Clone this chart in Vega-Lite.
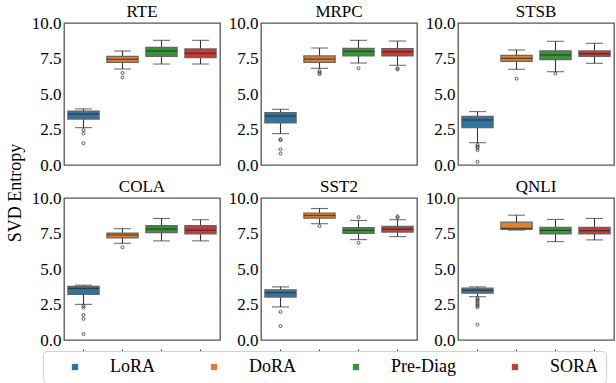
{
  "$schema": "https://vega.github.io/schema/vega-lite/v6.json",
  "padding": {"left": 6, "top": 2, "right": 3, "bottom": 1},
  "background": "white",
  "title": {"text": "SVD Entropy", "orient": "left", "anchor": "middle", "font": "Liberation Serif", "fontSize": 18, "fontWeight": "normal", "color": "#000", "offset": 6},
  "data": {"values": [
    {"task": "RTE", "method": "LoRA", "kind": "box", "lo": 2.63, "q1": 3.24, "med": 3.58, "q3": 3.80, "hi": 3.95},
    {"task": "RTE", "method": "DoRA", "kind": "box", "lo": 6.76, "q1": 7.23, "med": 7.44, "q3": 7.65, "hi": 8.03},
    {"task": "RTE", "method": "Pre-Diag", "kind": "box", "lo": 7.11, "q1": 7.65, "med": 8.03, "q3": 8.29, "hi": 8.78},
    {"task": "RTE", "method": "SORA", "kind": "box", "lo": 7.11, "q1": 7.56, "med": 7.86, "q3": 8.17, "hi": 8.78},
    {"task": "RTE", "method": "LoRA", "kind": "out", "v": 2.46},
    {"task": "RTE", "method": "LoRA", "kind": "out", "v": 2.22},
    {"task": "RTE", "method": "LoRA", "kind": "out", "v": 1.53},
    {"task": "RTE", "method": "DoRA", "kind": "out", "v": 6.48},
    {"task": "RTE", "method": "DoRA", "kind": "out", "v": 6.17},

    {"task": "MRPC", "method": "LoRA", "kind": "box", "lo": 2.21, "q1": 2.96, "med": 3.45, "q3": 3.69, "hi": 3.92},
    {"task": "MRPC", "method": "DoRA", "kind": "box", "lo": 6.81, "q1": 7.23, "med": 7.46, "q3": 7.68, "hi": 8.24},
    {"task": "MRPC", "method": "Pre-Diag", "kind": "box", "lo": 7.18, "q1": 7.68, "med": 8.00, "q3": 8.22, "hi": 8.78},
    {"task": "MRPC", "method": "SORA", "kind": "box", "lo": 7.02, "q1": 7.68, "med": 7.98, "q3": 8.19, "hi": 8.73},
    {"task": "MRPC", "method": "LoRA", "kind": "out", "v": 1.81},
    {"task": "MRPC", "method": "LoRA", "kind": "out", "v": 1.75},
    {"task": "MRPC", "method": "LoRA", "kind": "out", "v": 1.10},
    {"task": "MRPC", "method": "LoRA", "kind": "out", "v": 0.80},
    {"task": "MRPC", "method": "DoRA", "kind": "out", "v": 6.62},
    {"task": "MRPC", "method": "DoRA", "kind": "out", "v": 6.50},
    {"task": "MRPC", "method": "DoRA", "kind": "out", "v": 6.40},
    {"task": "MRPC", "method": "Pre-Diag", "kind": "out", "v": 6.81},
    {"task": "MRPC", "method": "SORA", "kind": "out", "v": 6.81},
    {"task": "MRPC", "method": "SORA", "kind": "out", "v": 6.73},

    {"task": "STSB", "method": "LoRA", "kind": "box", "lo": 1.57, "q1": 2.63, "med": 3.17, "q3": 3.43, "hi": 3.76},
    {"task": "STSB", "method": "DoRA", "kind": "box", "lo": 6.74, "q1": 7.30, "med": 7.51, "q3": 7.72, "hi": 8.10},
    {"task": "STSB", "method": "Pre-Diag", "kind": "box", "lo": 6.57, "q1": 7.42, "med": 7.75, "q3": 8.03, "hi": 8.71},
    {"task": "STSB", "method": "SORA", "kind": "box", "lo": 7.16, "q1": 7.65, "med": 7.84, "q3": 8.03, "hi": 8.57},
    {"task": "STSB", "method": "LoRA", "kind": "out", "v": 1.41},
    {"task": "STSB", "method": "LoRA", "kind": "out", "v": 1.30},
    {"task": "STSB", "method": "LoRA", "kind": "out", "v": 1.22},
    {"task": "STSB", "method": "LoRA", "kind": "out", "v": 1.05},
    {"task": "STSB", "method": "LoRA", "kind": "out", "v": 0.23},
    {"task": "STSB", "method": "DoRA", "kind": "out", "v": 6.08},
    {"task": "STSB", "method": "Pre-Diag", "kind": "out", "v": 6.45},

    {"task": "COLA", "method": "LoRA", "kind": "box", "lo": 2.51, "q1": 3.21, "med": 3.63, "q3": 3.77, "hi": 3.86},
    {"task": "COLA", "method": "DoRA", "kind": "box", "lo": 6.81, "q1": 7.19, "med": 7.40, "q3": 7.53, "hi": 7.84},
    {"task": "COLA", "method": "Pre-Diag", "kind": "box", "lo": 6.98, "q1": 7.56, "med": 7.81, "q3": 8.05, "hi": 8.56},
    {"task": "COLA", "method": "SORA", "kind": "box", "lo": 6.98, "q1": 7.47, "med": 7.74, "q3": 8.05, "hi": 8.47},
    {"task": "COLA", "method": "LoRA", "kind": "out", "v": 2.40},
    {"task": "COLA", "method": "LoRA", "kind": "out", "v": 2.28},
    {"task": "COLA", "method": "LoRA", "kind": "out", "v": 1.77},
    {"task": "COLA", "method": "LoRA", "kind": "out", "v": 1.49},
    {"task": "COLA", "method": "LoRA", "kind": "out", "v": 0.42},
    {"task": "COLA", "method": "DoRA", "kind": "out", "v": 6.53},

    {"task": "SST2", "method": "LoRA", "kind": "box", "lo": 2.33, "q1": 3.02, "med": 3.33, "q3": 3.53, "hi": 3.74},
    {"task": "SST2", "method": "DoRA", "kind": "box", "lo": 8.19, "q1": 8.58, "med": 8.77, "q3": 8.93, "hi": 9.26},
    {"task": "SST2", "method": "Pre-Diag", "kind": "box", "lo": 7.07, "q1": 7.51, "med": 7.72, "q3": 7.91, "hi": 8.42},
    {"task": "SST2", "method": "SORA", "kind": "box", "lo": 7.28, "q1": 7.60, "med": 7.81, "q3": 8.00, "hi": 8.47},
    {"task": "SST2", "method": "LoRA", "kind": "out", "v": 1.98},
    {"task": "SST2", "method": "LoRA", "kind": "out", "v": 0.98},
    {"task": "SST2", "method": "DoRA", "kind": "out", "v": 8.02},
    {"task": "SST2", "method": "Pre-Diag", "kind": "out", "v": 8.65},
    {"task": "SST2", "method": "Pre-Diag", "kind": "out", "v": 6.84},
    {"task": "SST2", "method": "SORA", "kind": "out", "v": 8.70},
    {"task": "SST2", "method": "SORA", "kind": "out", "v": 8.63},

    {"task": "QNLI", "method": "LoRA", "kind": "box", "lo": 3.05, "q1": 3.30, "med": 3.51, "q3": 3.65, "hi": 3.74},
    {"task": "QNLI", "method": "DoRA", "kind": "box", "lo": 7.74, "q1": 7.80, "med": 7.86, "q3": 8.30, "hi": 8.79},
    {"task": "QNLI", "method": "Pre-Diag", "kind": "box", "lo": 6.93, "q1": 7.47, "med": 7.72, "q3": 7.93, "hi": 8.49},
    {"task": "QNLI", "method": "SORA", "kind": "box", "lo": 7.05, "q1": 7.47, "med": 7.70, "q3": 7.93, "hi": 8.56},
    {"task": "QNLI", "method": "LoRA", "kind": "out", "v": 2.93},
    {"task": "QNLI", "method": "LoRA", "kind": "out", "v": 2.85},
    {"task": "QNLI", "method": "LoRA", "kind": "out", "v": 2.75},
    {"task": "QNLI", "method": "LoRA", "kind": "out", "v": 2.62},
    {"task": "QNLI", "method": "LoRA", "kind": "out", "v": 2.50},
    {"task": "QNLI", "method": "LoRA", "kind": "out", "v": 2.40},
    {"task": "QNLI", "method": "LoRA", "kind": "out", "v": 2.30},
    {"task": "QNLI", "method": "LoRA", "kind": "out", "v": 1.09}
  ]},
  "facet": {"field": "task", "type": "nominal", "sort": ["RTE", "MRPC", "STSB", "COLA", "SST2", "QNLI"],
    "header": {"title": null, "labelFont": "Liberation Serif", "labelFontSize": 17, "labelColor": "#000", "labelPadding": -7}},
  "columns": 3,
  "spacing": {"row": 3, "column": 6},
  "resolve": {"axis": {"y": "independent"}},
  "spec": {
    "width": 156,
    "height": 142,
    "encoding": {
      "x": {"field": "method", "type": "nominal", "sort": ["LoRA", "DoRA", "Pre-Diag", "SORA"],
        "scale": {"paddingInner": 0.2, "paddingOuter": 0.1},
        "axis": {"title": null, "labels": false, "ticks": true, "tickSize": 4, "tickColor": "#333", "tickWidth": 1, "domain": false, "grid": false}}
    },
    "layer": [
      {
        "transform": [{"filter": "datum.kind == 'box'"}],
        "mark": {"type": "rule", "color": "#333", "strokeWidth": 1.1},
        "encoding": {
          "y": {"field": "lo", "type": "quantitative", "scale": {"domain": [0, 10], "nice": false, "zero": false},
            "axis": {"title": null, "values": [0, 2.5, 5, 7.5, 10], "format": ".1f", "grid": false, "domain": false, "tickSize": 0, "labelPadding": 3,
              "labelOverlap": false, "labelBound": false, "labelFlush": false, "labelSeparation": 0,
              "labelFont": "Liberation Serif", "labelFontSize": 17, "labelColor": "#000"}},
          "y2": {"field": "hi"}
        }
      },
      {
        "transform": [{"filter": "datum.kind == 'box'"}],
        "mark": {"type": "tick", "color": "#333", "size": 17, "thickness": 1.1},
        "encoding": {"y": {"field": "lo", "type": "quantitative", "title": null,
          "axis": {"title": null, "values": [0, 2.5, 5, 7.5, 10], "format": ".1f", "grid": false, "domain": false, "tickSize": 0, "labelPadding": 3,
              "labelOverlap": false, "labelBound": false, "labelFlush": false, "labelSeparation": 0,
              "labelFont": "Liberation Serif", "labelFontSize": 17, "labelColor": "#000"}}}
      },
      {
        "transform": [{"filter": "datum.kind == 'box'"}],
        "mark": {"type": "tick", "color": "#333", "size": 17, "thickness": 1.1},
        "encoding": {"y": {"field": "hi", "type": "quantitative", "title": null,
          "axis": {"title": null, "values": [0, 2.5, 5, 7.5, 10], "format": ".1f", "grid": false, "domain": false, "tickSize": 0, "labelPadding": 3,
              "labelOverlap": false, "labelBound": false, "labelFlush": false, "labelSeparation": 0,
              "labelFont": "Liberation Serif", "labelFontSize": 17, "labelColor": "#000"}}}
      },
      {
        "transform": [{"filter": "datum.kind == 'box'"}],
        "mark": {"type": "bar", "stroke": "#666", "strokeWidth": 1.3, "opacity": 1},
        "encoding": {
          "y": {"field": "q1", "type": "quantitative", "title": null,
            "axis": {"title": null, "values": [0, 2.5, 5, 7.5, 10], "format": ".1f", "grid": false, "domain": false, "tickSize": 0, "labelPadding": 3,
              "labelOverlap": false, "labelBound": false, "labelFlush": false, "labelSeparation": 0,
              "labelFont": "Liberation Serif", "labelFontSize": 17, "labelColor": "#000"}},
          "y2": {"field": "q3"},
          "color": {"field": "method", "type": "nominal", "sort": ["LoRA", "DoRA", "Pre-Diag", "SORA"],
            "scale": {"domain": ["LoRA", "DoRA", "Pre-Diag", "SORA"], "range": ["#3274a1", "#e1812c", "#3a923a", "#c03d3e"]},
            "legend": {"title": null, "orient": "none", "legendX": -21, "legendY": 328, "direction": "horizontal", "symbolType": "square", "symbolSize": 40,
              "symbolStrokeWidth": 0, "symbolOpacity": 1, "labelFont": "Liberation Serif", "labelFontSize": 18, "labelColor": "#000",
              "labelOffset": 26, "columnPadding": 34, "padding": 7, "symbolOffset": 16, "strokeColor": "#d0d0d0", "cornerRadius": 4,
              "fillColor": "white"}}
        }
      },
      {
        "transform": [{"filter": "datum.kind == 'box'"}],
        "mark": {"type": "tick", "color": "#2a2a2a", "size": 31, "thickness": 1.3},
        "encoding": {"y": {"field": "med", "type": "quantitative", "title": null,
          "axis": {"title": null, "values": [0, 2.5, 5, 7.5, 10], "format": ".1f", "grid": false, "domain": false, "tickSize": 0, "labelPadding": 3,
              "labelOverlap": false, "labelBound": false, "labelFlush": false, "labelSeparation": 0,
              "labelFont": "Liberation Serif", "labelFontSize": 17, "labelColor": "#000"}}}
      },
      {
        "transform": [{"filter": "datum.kind == 'out'"}],
        "mark": {"type": "point", "shape": "circle", "filled": false, "size": 9, "stroke": "#333", "strokeWidth": 0.8, "opacity": 1},
        "encoding": {"y": {"field": "v", "type": "quantitative", "title": null,
          "axis": {"title": null, "values": [0, 2.5, 5, 7.5, 10], "format": ".1f", "grid": false, "domain": false, "tickSize": 0, "labelPadding": 3,
              "labelOverlap": false, "labelBound": false, "labelFlush": false, "labelSeparation": 0,
              "labelFont": "Liberation Serif", "labelFontSize": 17, "labelColor": "#000"}}}
      }
    ]
  },
  "config": {
    "view": {"stroke": "#555", "strokeWidth": 1.3},
    "axisY": {"labelOverlap": false},
    "font": "Liberation Serif"
  }
}
